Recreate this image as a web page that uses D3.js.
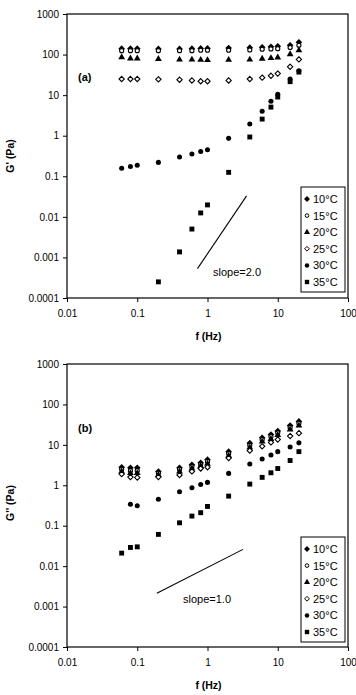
<!DOCTYPE html>
<html>
<head>
<meta charset="utf-8">
<script src="https://cdn.jsdelivr.net/npm/d3@7"></script>
<style>
  html, body { margin: 0; padding: 0; background: #fff; }
  svg { display: block; font-family: "Liberation Sans", Arial, sans-serif; }
</style>
</head>
<body>
<div id="chart"></div>
<script>
// frequencies (Hz)
const freqs = [0.06, 0.08, 0.1, 0.2, 0.4, 0.6, 0.8, 1, 2, 4, 6, 8, 10, 15, 20];
const temps = ["10°C", "15°C", "20°C", "25°C", "30°C", "35°C"];

// G' (Pa), panel (a)
const gp10 = [140, 140, 140, 138, 138, 140, 142, 142, 145, 148, 152, 155, 160, 170, 200];
const gp15 = [125, 125, 125, 125, 125, 125, 128, 128, 128, 130, 135, 138, 140, 150, 170];
const gp20 = [86, 80, 80, 78, 75, 75, 74, 73, 74, 75, 79, 82, 85, 102, 127];
const gp25 = [25, 25, 25, 24.5, 24, 23, 22, 22, 23, 25, 27, 30, 34, 50, 76];
const gp30 = [0.157, 0.175, 0.186, 0.22, 0.30, 0.355, 0.41, 0.45, 0.86, 1.94, 4.0, 7.1, 10.5, 25, 40];
const gp35 = [null, null, null, 0.00025, 0.00137, 0.005, 0.0125, 0.0197, 0.125, 0.93, 2.57, 5.07, 9.0, 21.5, 37];

// G'' (Pa), panel (b)
const gpp10 = [2.8, 2.7, 2.7, 2.2, 2.7, 3.2, 3.6, 4.3, 6.8, 11, 15, 18, 22, 30, 38];
const gpp15 = [2.5, 2.3, 2.3, 2.0, 2.5, 2.9, 3.3, 3.9, 6.1, 9.8, 13.5, 16, 20, 27, 34];
const gpp20 = [2.2, 2.0, 2.0, 1.8, 2.2, 2.6, 3.0, 3.4, 5.4, 8.6, 12, 14, 17.5, 24, 30];
const gpp25 = [1.9, 1.6, 1.55, 1.6, 1.8, 2.2, 2.6, 2.8, 4.7, 7.2, 9.2, 11.5, 13.5, 16.5, 19.5];
const gpp30 = [null, 0.34, 0.31, 0.45, 0.69, 0.87, 1.05, 1.18, 1.97, 3.35, 4.45, 5.6, 6.8, 8.9, 11.2];
const gpp35 = [0.021, 0.029, 0.030, 0.061, 0.118, 0.173, 0.21, 0.30, 0.54, 1.07, 1.57, 2.04, 2.6, 4.1, 6.8];

// reference slope lines [[f, G], [f, G]]
const slopeA = [[0.72, 0.00053], [3.6, 0.033]];
const slopeB = [[0.19, 0.00214], [3.2, 0.026]];

const xTicks = [0.01, 0.1, 1, 10, 100];
const yTicks = [0.0001, 0.001, 0.01, 0.1, 1, 10, 100, 1000];

const width = 356, height = 695;
const left = 67, right = 348;

const svg = d3.select("#chart").append("svg")
  .attr("width", width)
  .attr("height", height);

// square turned 45deg, like the plot's diamonds
const rhomb = {
  draw(ctx, size) {
    const r = Math.sqrt(size / 2);
    ctx.moveTo(0, -r);
    ctx.lineTo(r, 0);
    ctx.lineTo(0, r);
    ctx.lineTo(-r, 0);
    ctx.closePath();
  }
};

// marker look for each temperature
const markers = [
  { type: rhomb, size: 22, fill: "#000", stroke: "none" },
  { type: d3.symbolCircle, size: 13, fill: "#fff", stroke: "#000" },
  { type: d3.symbolTriangle, size: 20, fill: "#000", stroke: "none" },
  { type: rhomb, size: 14, fill: "#fff", stroke: "#000" },
  { type: d3.symbolCircle, size: 20, fill: "#000", stroke: "none" },
  { type: d3.symbolSquare, size: 24, fill: "#000", stroke: "none" }
];

const x = d3.scaleLog().domain([0.01, 100]).range([left, right]);

function fmt(d) {
  return d >= 1 ? String(d) : d.toFixed(Math.round(-Math.log10(d)));
}

function drawPanel(p) {
  const y = d3.scaleLog().domain([0.0001, 1000]).range([p.bottom, p.top]);
  const g = svg.append("g");

  // y axis
  g.append("g")
    .attr("transform", `translate(${left},0)`)
    .call(d3.axisLeft(y).tickValues(yTicks).tickFormat(fmt).tickSize(4).tickPadding(4))
    .call(a => a.select(".domain").remove())
    .call(a => a.selectAll("text").attr("font-size", "10px").attr("font-family", "Liberation Sans, Arial, sans-serif"));

  // x axis
  g.append("g")
    .attr("transform", `translate(0,${p.bottom})`)
    .call(d3.axisBottom(x).tickValues(xTicks).tickFormat(fmt).tickSize(4).tickPadding(8))
    .call(a => a.select(".domain").remove())
    .call(a => a.selectAll("text").attr("font-size", "10px").attr("font-family", "Liberation Sans, Arial, sans-serif"));

  // frame
  g.append("rect")
    .attr("x", left).attr("y", p.top)
    .attr("width", right - left).attr("height", p.bottom - p.top)
    .attr("fill", "none").attr("stroke", "#000").attr("stroke-width", 1.2);

  // points
  p.series.forEach((vals, i) => {
    const m = markers[i];
    g.append("g")
      .selectAll("path")
      .data(freqs.map((f, j) => ({ f, v: vals[j] })).filter(d => d.v != null))
      .join("path")
      .attr("transform", d => `translate(${x(d.f)},${y(d.v)})`)
      .attr("d", d3.symbol().type(m.type).size(m.size))
      .attr("fill", m.fill)
      .attr("stroke", m.stroke)
      .attr("stroke-width", 1.1);
  });

  // slope line
  g.append("line")
    .attr("x1", x(p.slope[0][0])).attr("y1", y(p.slope[0][1]))
    .attr("x2", x(p.slope[1][0])).attr("y2", y(p.slope[1][1]))
    .attr("stroke", "#000").attr("stroke-width", 1.1);

  g.append("text")
    .attr("x", p.slopeLabel[0]).attr("y", p.slopeLabel[1])
    .attr("font-size", "11px")
    .text(p.slopeText);

  // panel tag
  g.append("text")
    .attr("x", 78).attr("y", p.tagY)
    .attr("font-size", "11px").attr("font-weight", "bold")
    .text(p.tag);

  // axis titles
  g.append("text")
    .attr("x", (left + right) / 2 + 1).attr("y", p.bottom + 42)
    .attr("text-anchor", "middle")
    .attr("font-size", "10.5px").attr("font-weight", "bold")
    .text("f (Hz)");

  g.append("text")
    .attr("transform", `translate(14,${p.yTitleY}) rotate(-90)`)
    .attr("text-anchor", "middle")
    .attr("font-size", "10.5px").attr("font-weight", "bold")
    .text(p.yTitle);

  // legend
  const lg = g.append("g").attr("transform", `translate(301,${p.legendY})`);
  lg.append("rect")
    .attr("width", 44).attr("height", 105)
    .attr("fill", "#fff").attr("stroke", "#000").attr("stroke-width", 1);
  temps.forEach((t, i) => {
    const m = markers[i];
    const row = lg.append("g").attr("transform", `translate(0,${12 + i * 16.6})`);
    row.append("path")
      .attr("transform", "translate(6,0)")
      .attr("d", d3.symbol().type(m.type).size(m.size * 0.8))
      .attr("fill", m.fill).attr("stroke", m.stroke).attr("stroke-width", 1);
    row.append("text")
      .attr("x", 12).attr("y", 4)
      .attr("font-size", "11px")
      .text(t);
  });
}

drawPanel({
  top: 14, bottom: 298,
  series: [gp10, gp15, gp20, gp25, gp30, gp35],
  slope: slopeA, slopeText: "slope=2.0", slopeLabel: [213, 276],
  tag: "(a)", tagY: 81,
  yTitle: "G' (Pa)", yTitleY: 156,
  legendY: 187
});

drawPanel({
  top: 364, bottom: 647,
  series: [gpp10, gpp15, gpp20, gpp25, gpp30, gpp35],
  slope: slopeB, slopeText: "slope=1.0", slopeLabel: [183, 603],
  tag: "(b)", tagY: 432,
  yTitle: "G'' (Pa)", yTitleY: 503,
  legendY: 537
});
</script>
</body>
</html>
